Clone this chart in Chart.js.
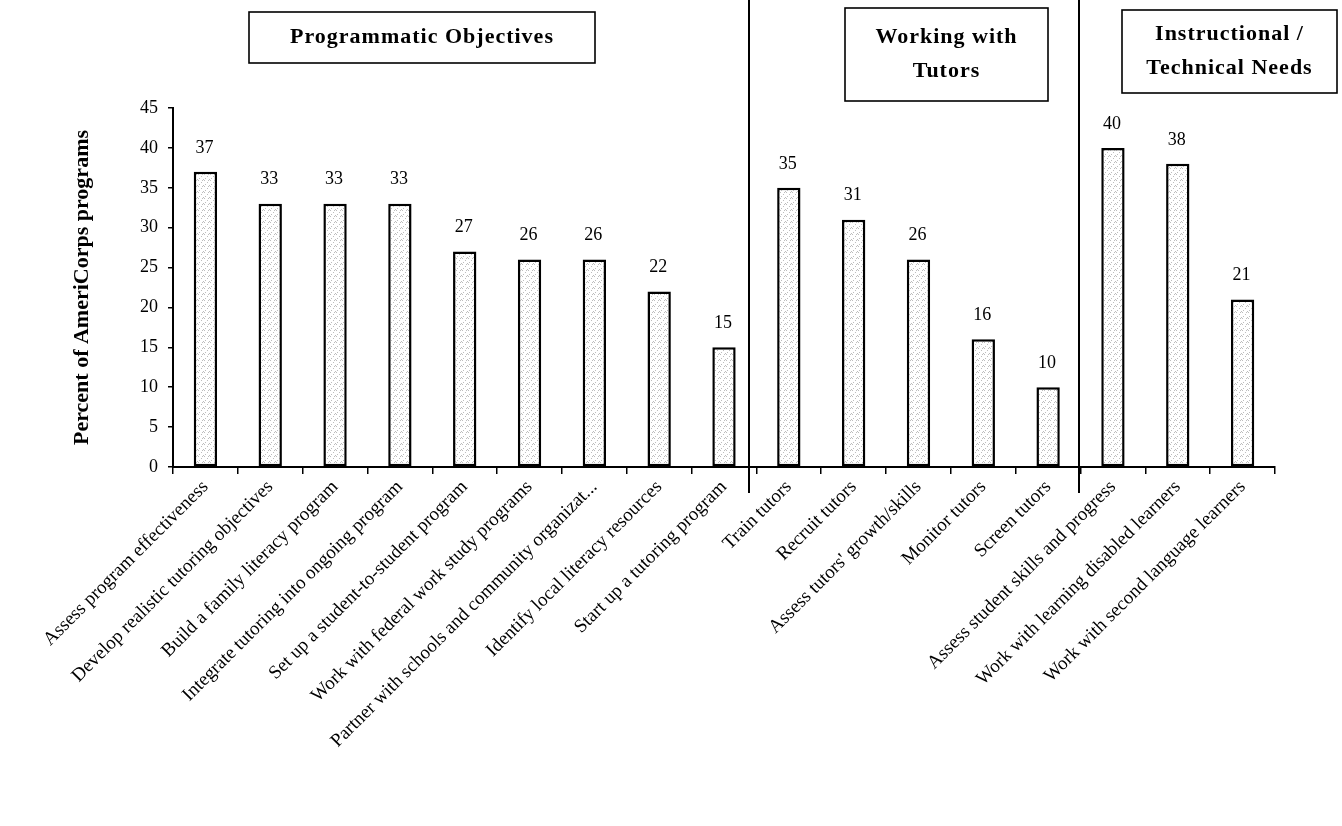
<!DOCTYPE html>
<html>
<head>
<meta charset="utf-8">
<script src="https://cdn.jsdelivr.net/npm/chart.js@4.4.1/dist/chart.umd.min.js"></script>
<style>
  html, body { margin: 0; padding: 0; background: #fff; }
  #wrap { width: 1342px; height: 826px; }
</style>
</head>
<body>
<div id="wrap"><canvas id="chart" width="1342" height="826"></canvas></div>
<script>
// Activities in which AmeriCorps literacy programs asked for help
const categories = [
  "Assess program effectiveness",
  "Develop realistic tutoring objectives",
  "Build a family literacy program",
  "Integrate tutoring into ongoing program",
  "Set up a student-to-student program",
  "Work with federal work study programs",
  "Partner with schools and community organizat...",
  "Identify local literacy resources",
  "Start up a tutoring program",
  "Train tutors",
  "Recruit tutors",
  "Assess tutors' growth/skills",
  "Monitor tutors",
  "Screen tutors",
  "Assess student skills and progress",
  "Work with learning disabled learners",
  "Work with second language learners"
];
const percentOfPrograms = [37, 33, 33, 33, 27, 26, 26, 22, 15, 35, 31, 26, 16, 10, 40, 38, 21];
const yTickValues = [0, 5, 10, 15, 20, 25, 30, 35, 40, 45];
const groupTitles = [
  ["Programmatic Objectives"],
  ["Working with", "Tutors"],
  ["Instructional /", "Technical Needs"]
];
const groupSizes = [9, 5, 3];

const SERIF = "'Liberation Serif', 'Times New Roman', serif";

// light stippled fill for the bars
function stipple() {
  const c = document.createElement('canvas');
  c.width = 6; c.height = 6;
  const g = c.getContext('2d');
  g.fillStyle = '#ffffff';
  g.fillRect(0, 0, 6, 6);
  g.fillStyle = '#bdbdbd';
  [[0, 0], [3, 2], [1, 4], [5, 5], [4, 0]].forEach(([x, y]) => g.fillRect(x, y, 1, 1));
  return g.createPattern(c, 'repeat');
}

// value labels above bars, group dividers and group header boxes
const decorations = {
  id: 'decorations',
  afterDatasetsDraw(chart) {
    const ctx = chart.ctx;
    const meta = chart.getDatasetMeta(0);
    ctx.save();
    ctx.fillStyle = '#000';
    ctx.font = "18px " + SERIF;
    ctx.textAlign = 'center';
    ctx.textBaseline = 'middle';
    meta.data.forEach((bar, i) => {
      ctx.fillText(String(percentOfPrograms[i]), bar.x - 1, bar.y - 24);
    });
    ctx.restore();
  },
  afterDraw(chart) {
    const ctx = chart.ctx;
    const xs = chart.scales.x;
    const step = (xs.right - xs.left) / categories.length;
    ctx.save();
    ctx.strokeStyle = '#000';
    ctx.lineWidth = 2;
    // dividers between the groups
    let idx = 0;
    const offsets = [-7, -2];
    for (let g = 0; g < groupSizes.length - 1; g++) {
      idx += groupSizes[g];
      const x = Math.round(xs.left + idx * step + offsets[g]);
      ctx.beginPath();
      ctx.moveTo(x, 0);
      ctx.lineTo(x, xs.top + 26);
      ctx.stroke();
    }
    // header boxes
    const boxes = [
      { x: 249, y: 12, w: 346, h: 51 },
      { x: 845, y: 8, w: 203, h: 93 },
      { x: 1122, y: 10, w: 215, h: 83 }
    ];
    ctx.font = "bold 22px " + SERIF;
    ctx.letterSpacing = '1px';
    ctx.textAlign = 'center';
    ctx.textBaseline = 'middle';
    ctx.lineWidth = 1.6;
    boxes.forEach((b, g) => {
      ctx.fillStyle = '#fff';
      ctx.fillRect(b.x, b.y, b.w, b.h);
      ctx.strokeRect(b.x, b.y, b.w, b.h);
      ctx.fillStyle = '#000';
      const lines = groupTitles[g];
      const lh = 34;
      const cy = b.y + b.h / 2;
      lines.forEach((t, k) => {
        ctx.fillText(t, b.x + b.w / 2, cy + (k - (lines.length - 1) / 2) * lh);
      });
    });
    ctx.restore();
  }
};

new Chart(document.getElementById('chart'), {
  type: 'bar',
  data: {
    labels: categories,
    datasets: [{
      data: percentOfPrograms,
      backgroundColor: stipple(),
      borderColor: '#000',
      borderWidth: 2.5,
      borderSkipped: false,
      barPercentage: 0.36,
      categoryPercentage: 1.0
    }]
  },
  options: {
    responsive: false,
    animation: false,
    layout: { padding: { left: 0, top: 108, right: 67, bottom: 0 } },
    plugins: { legend: { display: false }, tooltip: { enabled: false } },
    scales: {
      x: {
        grid: { drawOnChartArea: false, drawTicks: true, tickLength: 7, color: '#000', lineWidth: 1.5 },
        border: { display: true, color: '#000', width: 2 },
        ticks: {
          autoSkip: false, maxRotation: 45, minRotation: 45, padding: 2,
          color: '#000', font: { family: SERIF, size: 19 }
        },
        afterFit(scale) { scale.height = 826 - 467; }
      },
      y: {
        min: 0, max: 45,
        afterBuildTicks(scale) { scale.ticks = yTickValues.map(v => ({ value: v })); },
        grid: { drawOnChartArea: false, drawTicks: true, tickLength: 5, color: '#000', lineWidth: 1.5 },
        border: { display: true, color: '#000', width: 2 },
        ticks: { color: '#000', padding: 10, font: { family: SERIF, size: 18 } },
        title: {
          display: true,
          text: 'Percent of AmeriCorps programs',
          color: '#000',
          font: { family: SERIF, size: 22, weight: 'bold' },
          padding: { top: 69, bottom: 0 }
        },
        afterFit(scale) { scale.width = 173; }
      }
    }
  },
  plugins: [decorations]
});
</script>
</body>
</html>
